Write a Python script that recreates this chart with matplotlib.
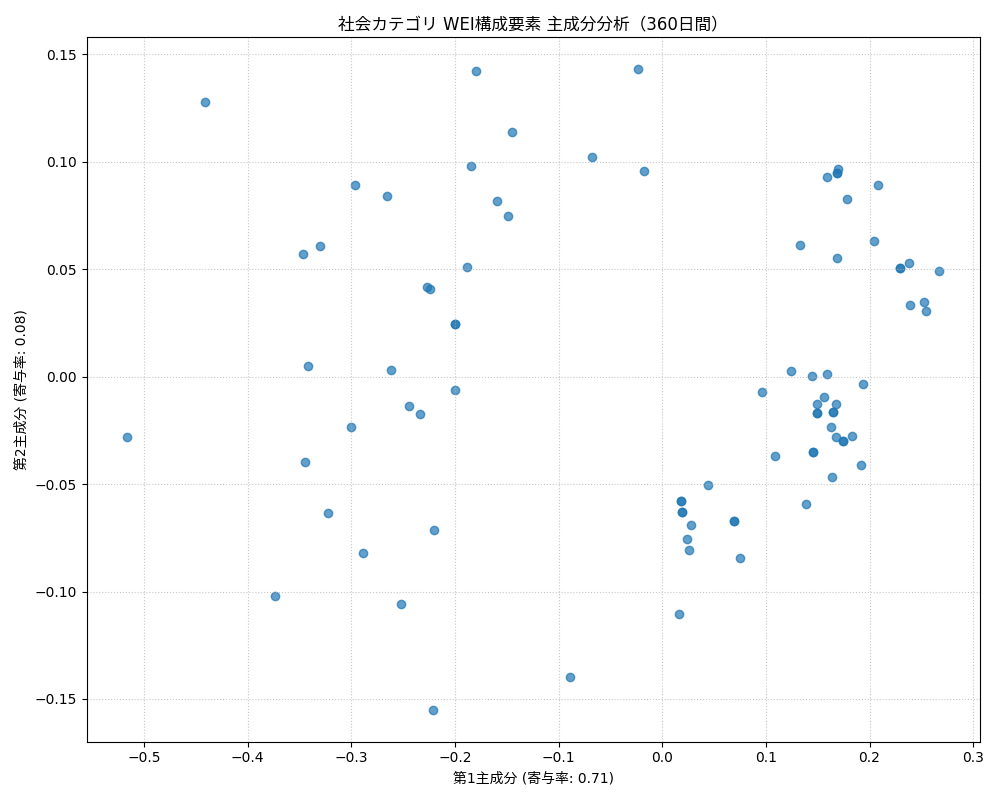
import matplotlib
matplotlib.use("Agg")
import matplotlib.pyplot as plt

plt.rcParams['font.family'] = ['DejaVu Sans', 'Noto Sans CJK JP']

pc1 = [-0.441, -0.516, -0.373, -0.346, -0.342, -0.345, -0.330, -0.322, -0.300, -0.296,
       -0.289, -0.265, -0.262, -0.252, -0.244, -0.234, -0.227, -0.224, -0.220, -0.221,
       -0.200, -0.200, -0.200, -0.188, -0.184, -0.180, -0.159, -0.149, -0.145, -0.0887,
       -0.068, -0.023, -0.018, 0.0164, 0.018, 0.018, 0.019, 0.019, 0.024, 0.026,
       0.028, 0.0443, 0.0694, 0.0694, 0.0752, 0.0964, 0.109, 0.124, 0.133, 0.139,
       0.1446, 0.1455, 0.1455, 0.149, 0.149, 0.149, 0.156, 0.159, 0.159, 0.163,
       0.164, 0.165, 0.165, 0.168, 0.168, 0.169, 0.169, 0.169, 0.170, 0.174,
       0.174, 0.178, 0.183, 0.192, 0.194, 0.204, 0.208, 0.229, 0.229, 0.238,
       0.239, 0.253, 0.254, 0.267]
pc2 = [0.1277, -0.0281, -0.102, 0.057, 0.0049, -0.0398, 0.061, -0.0635, -0.0235, 0.089,
       -0.082, 0.084, 0.003, -0.106, -0.0137, -0.0174, 0.0416, 0.0407, -0.0714, -0.155,
       0.0244, 0.0244, -0.0063, 0.051, 0.098, 0.142, 0.0816, 0.0746, 0.1137, -0.140,
       0.102, 0.143, 0.0956, -0.1105, -0.058, -0.058, -0.063, -0.063, -0.0756, -0.0807,
       -0.0691, -0.0505, -0.0672, -0.0672, -0.0844, -0.0072, -0.037, 0.0026, 0.0612, -0.0593,
       0.0002, -0.0351, -0.0351, -0.0128, -0.017, -0.017, -0.0095, 0.0012, 0.0928, -0.0235,
       -0.0467, -0.0165, -0.0165, -0.0128, -0.0281, 0.0551, 0.0947, 0.0947, 0.0967, -0.030,
       -0.030, 0.0826, -0.0277, -0.0412, -0.0035, 0.063, 0.089, 0.0505, 0.0505, 0.0528,
       0.0333, 0.0347, 0.0305, 0.049]

fig, ax = plt.subplots(figsize=(10, 8), dpi=100)
ax.scatter(pc1, pc2, alpha=0.7)
ax.set_title('社会カテゴリ WEI構成要素 主成分分析（360日間）')
ax.set_xlabel('第1主成分 (寄与率: 0.71)')
ax.set_ylabel('第2主成分 (寄与率: 0.08)')
ax.grid(True, linestyle=':', alpha=0.7)
plt.tight_layout()
plt.savefig('out.png')
